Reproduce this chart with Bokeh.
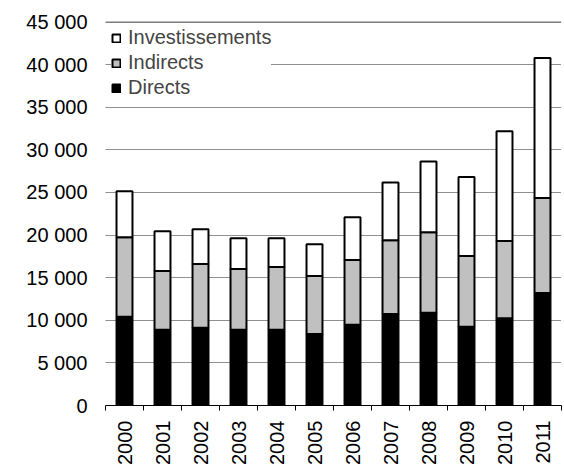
import math
from bokeh.plotting import figure
from bokeh.models import ColumnDataSource, Range1d, FixedTicker, Legend, LegendItem, Span
from bokeh.embed import file_html
from bokeh.resources import INLINE

years = ["2000", "2001", "2002", "2003", "2004", "2005", "2006", "2007", "2008", "2009", "2010", "2011"]
directs = [10400, 8880, 9120, 8880, 8880, 8400, 9470, 10750, 10870, 9230, 10230, 13210]
indirects_top = [19750, 15780, 16600, 16010, 16250, 15190, 17060, 19400, 20340, 17530, 19290, 24340]
totals = [25130, 20450, 20690, 19640, 19640, 18930, 22090, 26180, 28640, 26820, 32180, 40790]
y_ticks = [0, 5000, 10000, 15000, 20000, 25000, 30000, 35000, 40000, 45000]

indirects = [t - d for t, d in zip(indirects_top, directs)]
investissements = [t - i for t, i in zip(totals, indirects_top)]

centers = [i + 0.5 for i in range(len(years))]
bounds = list(range(len(years) + 1))

src = ColumnDataSource(dict(x=centers, Directs=directs, Indirects=indirects, Investissements=investissements))

FONT = "Liberation Sans"
FS = "20px"
GRID_COLOR = "#202020"

p = figure(width=564, height=467, output_backend="svg", toolbar_location=None,
           x_range=Range1d(0, len(years)), y_range=Range1d(0, 46000),
           min_border_left=105, min_border_right=3, min_border_top=13, min_border_bottom=60)

# top gridline
p.add_layout(Span(location=y_ticks[-1], dimension="width", line_color="#707070",
                  line_width=1, level="glyph"))

rs = p.vbar_stack(["Directs", "Indirects", "Investissements"], x="x", width=0.42, source=src,
                  fill_color=["#000000", "#c0c0c0", "#ffffff"], line_color="#000000", line_width=2)

legend = Legend(items=[LegendItem(label="Investissements", renderers=[rs[2]]),
                       LegendItem(label="Indirects", renderers=[rs[1]]),
                       LegendItem(label="Directs", renderers=[rs[0]])],
                location=(6, 306), border_line_color=None, background_fill_alpha=1,
                label_text_font=FONT, label_text_font_size=FS, glyph_width=10, glyph_height=10,
                label_standoff=7, spacing=2, padding=4, margin=0, label_height=22)
p.add_layout(legend)

p.outline_line_color = None
p.xgrid.grid_line_color = None
p.ygrid.grid_line_color = GRID_COLOR
p.ygrid.grid_line_dash = "1 1"
p.ygrid.grid_line_width = 1
p.ygrid.ticker = FixedTicker(ticks=y_ticks)

p.yaxis.ticker = FixedTicker(ticks=y_ticks)
p.yaxis.major_label_overrides = {t: f"{t:,}".replace(",", " ") for t in y_ticks}
p.yaxis.axis_line_color = None
p.yaxis.major_tick_line_color = None
p.yaxis.minor_tick_line_color = None
p.yaxis.major_tick_out = 0
p.yaxis.major_label_standoff = 18
p.yaxis.major_label_text_font = FONT
p.yaxis.major_label_text_font_size = FS
p.yaxis.major_label_text_color = "#000000"

p.xaxis.ticker = FixedTicker(ticks=centers, minor_ticks=bounds)
p.xaxis.major_label_overrides = {c: y for c, y in zip(centers, years)}
p.xaxis.major_tick_line_color = None
p.xaxis.major_tick_out = 0
p.xaxis.minor_tick_line_color = "#000000"
p.xaxis.minor_tick_out = 5
p.xaxis.minor_tick_in = 0
p.xaxis.axis_line_color = "#000000"
p.xaxis.major_label_orientation = math.pi / 2
p.xaxis.major_label_standoff = 10
p.xaxis.major_label_text_font = FONT
p.xaxis.major_label_text_font_size = FS
p.xaxis.major_label_text_color = "#000000"

open("out.html", "w").write(file_html(p, INLINE))
